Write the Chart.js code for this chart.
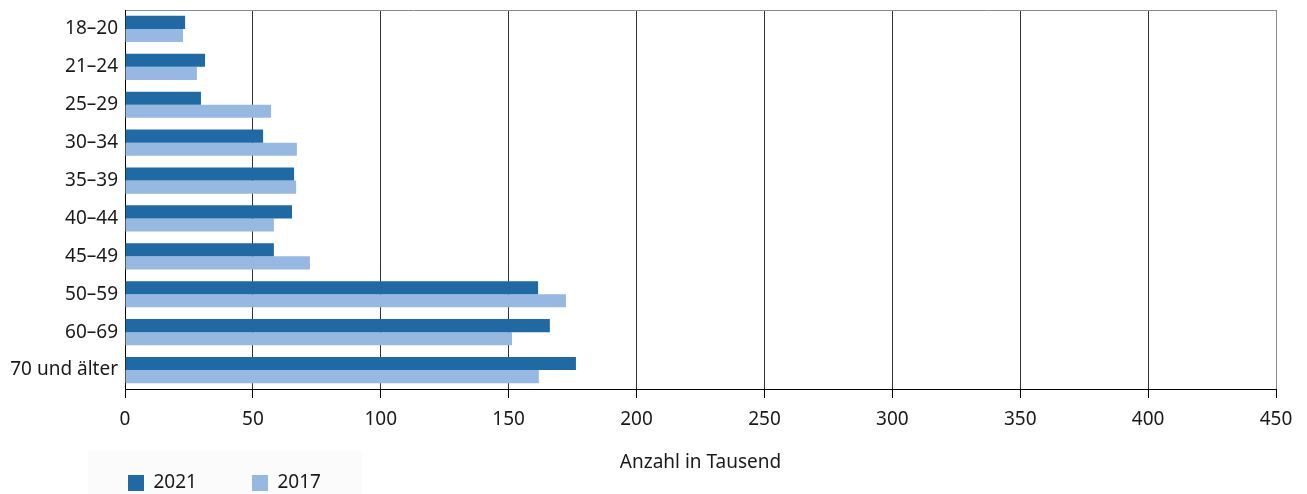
<!DOCTYPE html>
<html>
<head>
<meta charset="utf-8">
<script src="https://cdn.jsdelivr.net/npm/chart.js@4"></script>
<style>
  html, body { margin:0; padding:0; background:#fff; }
  #wrap { width:1307px; height:494px; position:relative; }
</style>
</head>
<body>
<div id="wrap"><canvas id="ageChart"></canvas></div>
<script>
// Altersgruppen und Werte (Anzahl in Tausend)
const ageGroups = ['18–20','21–24','25–29','30–34','35–39','40–44','45–49','50–59','60–69','70 und älter'];
const values2021 = [23.5, 31.3, 29.7, 54.0, 66.1, 65.3, 58.2, 161.5, 166.1, 176.3];
const values2017 = [22.7, 28.1, 57.1, 67.2, 66.9, 58.2, 72.3, 172.4, 151.3, 161.8];
const xTicks = [0, 50, 100, 150, 200, 250, 300, 350, 400, 450];
const seriesNames = ['2021', '2017'];

const FONT = "'Noto Sans', sans-serif";
const LEG_PAD = 55;

// legend sits at lower left on a faint panel
const legendPlacer = {
  id: 'legendPlacer',
  afterLayout(chart) {
    const lg = chart.legend;
    lg.left = 128 - LEG_PAD;
    lg.top = 473.5 - LEG_PAD;
  },
  beforeDraw(chart) {
    const lg = chart.legend;
    const boxes = lg.legendHitBoxes;
    if (!boxes || !boxes.length) return;
    const first = boxes[0], last = boxes[boxes.length-1];
    const ctx = chart.ctx;
    ctx.save();
    ctx.fillStyle = '#fbfbfb';
    ctx.fillRect(first.left - 40, first.top - 23, (last.left + last.width + 41) - (first.left - 40), chart.height);
    ctx.restore();
  }
};

new Chart(document.getElementById('ageChart').getContext('2d'), {
  type: 'bar',
  data: {
    labels: ageGroups,
    datasets: [
      { label: seriesNames[0], data: values2021, backgroundColor: '#1f6aa4', borderWidth: 0 },
      { label: seriesNames[1], data: values2017, backgroundColor: '#97b8e0', borderWidth: 0 }
    ]
  },
  options: {
    indexAxis: 'y',
    responsive: true,
    maintainAspectRatio: false,
    animation: false,
    layout: { padding: { top: 10, right: 31, left: 0, bottom: 0 } },
    datasets: { bar: { categoryPercentage: 0.69, barPercentage: 1 } },
    scales: {
      x: {
        min: 0, max: 450,
        afterBuildTicks: s => { s.ticks = xTicks.map(v => ({ value: v })); },
        afterFit: s => { s.height = 104; },
        grid: {
          color: c => (c.tick && c.tick.value === 450) ? '#8a8a8a' : '#333',
          lineWidth: 1,
          tickColor: '#000',
          tickLength: 9
        },
        border: { color: '#000', width: 1 },
        ticks: { color: '#1a1a1a', font: { family: FONT, size: 19 }, padding: 10 },
        title: {
          display: true, text: 'Anzahl in Tausend', color: '#1a1a1a',
          font: { family: FONT, size: 19 }, padding: { top: 4, bottom: 18.6 }
        }
      },
      y: {
        afterFit: s => { s.width = 125; s.paddingTop = 0; s.paddingBottom = 0; },
        grid: {
          drawTicks: false,
          color: c => c.index === 0 ? '#8a8a8a' : 'rgba(0,0,0,0)'
        },
        border: { color: '#000', width: 1 },
        ticks: { color: '#1a1a1a', font: { family: FONT, size: 19 }, padding: 7 }
      }
    },
    plugins: {
      tooltip: { enabled: false },
      legend: {
        position: 'bottom',
        align: 'start',
        maxHeight: 1,
        labels: {
          boxWidth: 16, boxHeight: 16, padding: LEG_PAD,
          color: '#1a1a1a', font: { family: FONT, size: 19 }
        }
      }
    }
  },
  plugins: [legendPlacer]
});
</script>
</body>
</html>
